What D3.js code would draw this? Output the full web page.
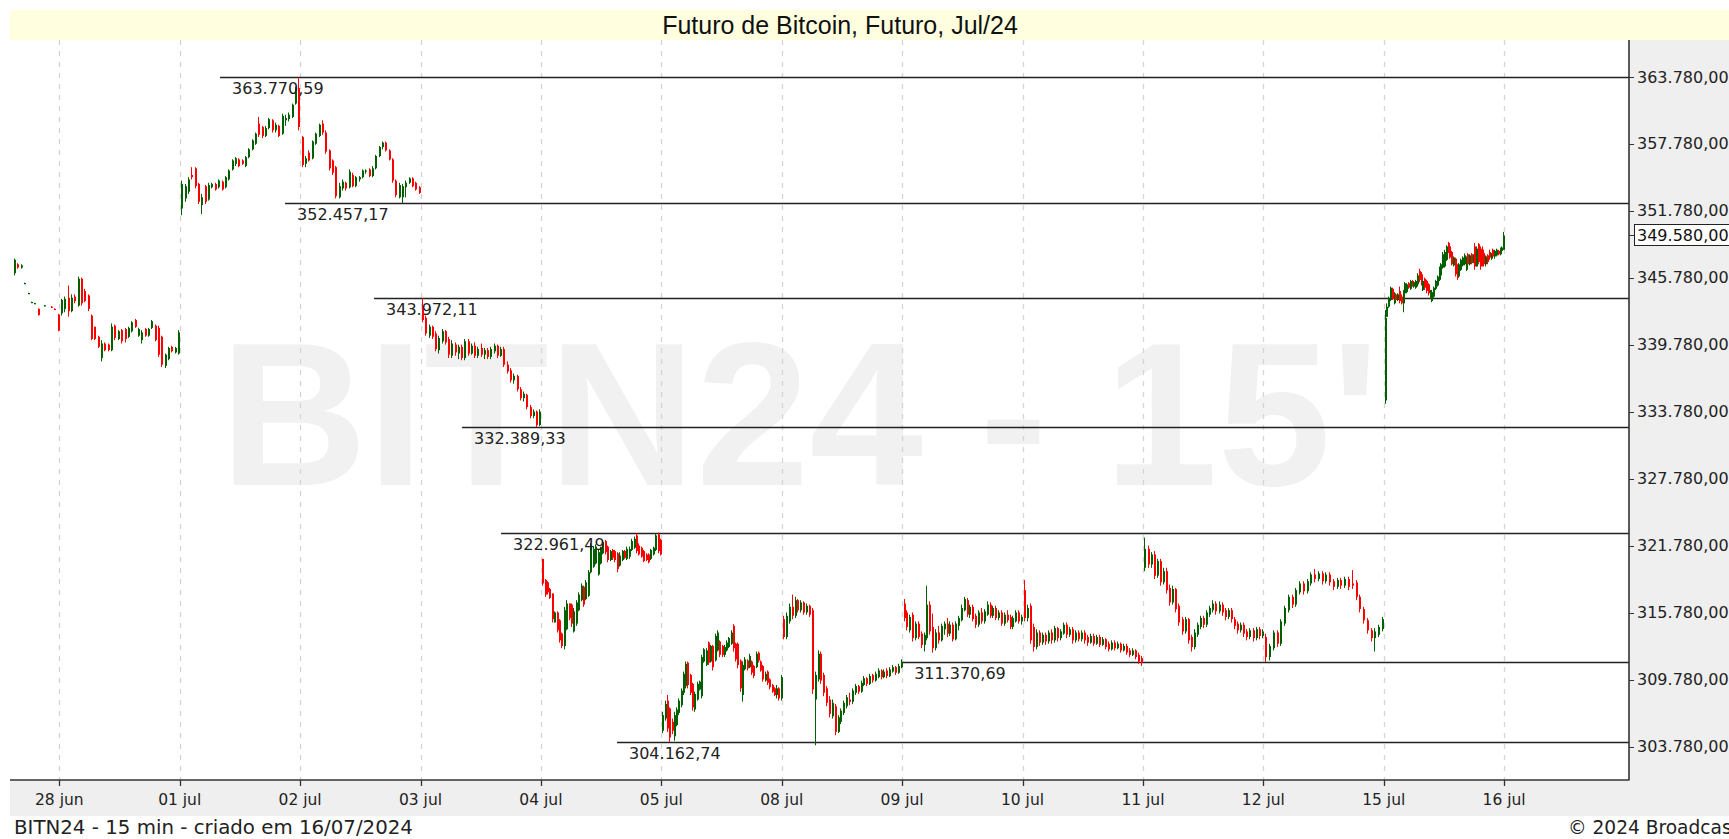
<!DOCTYPE html>
<html><head><meta charset="utf-8">
<script src="https://cdn.jsdelivr.net/npm/d3@7"></script>
<style>body{margin:0;background:#fff;overflow:hidden}svg{display:block}</style>
</head><body>
<svg id="chart" width="1729" height="839"></svg>
<script>
// ---------------- DATA ----------------
const title = "Futuro de Bitcoin, Futuro, Jul/24";
const footerLeft = "BITN24 - 15 min - criado em 16/07/2024";
const footerRight = "© 2024 Broadcast";
const watermark = "BITN24 - 15'";
const dayLabels = ["28 jun","01 jul","02 jul","03 jul","04 jul","05 jul","08 jul","09 jul","10 jul","11 jul","12 jul","15 jul","16 jul"];
const yTicks = [303780, 309780, 315780, 321780, 327780, 333780, 339780, 345780, 351780, 357780, 363780];
const lastPrice = 349580;
const levelValues = [363770.59, 352457.17, 343972.11, 332389.33, 322961.49, 311370.69, 304162.74];
const levelFrom = [1.335, 1.875, 2.614, 3.345, 3.669, 7.0, 4.632]; // day-index where each level line starts

// candles [open, high, low, close] in thousands
const d27jun = [null,null,null,null,null,null,null,null,null,null,null,null,null,null,null,null,null,null,null,null,null,null,
 [346.2,347.5,346.0,347.4],[347.0,347.1,346.6,346.7],[346.7,347.0,346.6,346.9],[345.3,345.35,345.25,345.32],
 [344.4,344.45,344.35,344.42],[343.6,343.65,343.55,343.62],[343.5,343.55,343.45,343.52],[343.0,343.05,342.4,342.45],
 null,[343.3,343.35,343.25,343.32],null,[343.2,343.25,343.15,343.18],[343.0,343.05,342.95,342.98],[342.5,342.55,341.0,341.05]];
const d28jun = [[342.6,343.9,342.4,343.8],[343.0,344.1,342.7,343.9],[344.0,345.1,342.3,342.8],[342.8,344.3,342.7,344.0],
 [344.1,344.3,343.5,343.7],[343.3,345.9,343.2,345.7],[345.7,345.8,343.3,343.5],[344.6,344.8,343.6,343.7],
 [344.2,344.3,342.8,343.0],[342.4,342.5,340.2,340.3],[341.4,341.4,340.2,340.3],[340.5,340.6,339.5,339.6],
 [338.6,340.2,338.3,339.9],[339.9,340.0,339.2,339.3],[339.8,339.9,339.2,339.3],[339.3,341.7,339.2,341.4],
 [341.5,341.6,340.2,340.4],[340.3,341.1,340.2,341.0],[341.1,341.2,339.9,340.1],[341.2,341.3,340.0,340.3],
 [340.5,341.4,340.4,341.3],[341.0,341.9,340.9,341.8],[342.0,342.1,341.3,341.4],[340.6,341.3,340.5,341.2],
 [340.2,341.1,339.9,340.9],[341.2,341.3,340.5,340.6],[340.6,341.3,340.5,341.2],[341.3,342.0,341.2,341.9],
 [341.5,341.6,340.1,340.2],[341.3,341.5,338.7,338.9],[340.5,340.6,337.8,338.0],[337.9,339.0,337.7,338.9],
 [338.5,339.6,338.4,339.5],[339.6,339.7,339.1,339.2],[339.1,339.6,339.0,339.5],[339.0,341.1,338.9,340.9]];
const d01jul = [[352.0,354.5,351.4,354.2],[352.9,354.2,352.6,354.0],[353.5,354.8,353.3,354.6],[355.0,355.7,354.6,354.8],
 [355.6,355.7,353.8,354.0],[354.2,354.3,352.4,352.6],[352.3,353.3,351.5,353.0],[354.0,354.1,352.4,352.6],
 [352.8,354.3,352.7,354.1],[353.9,354.3,353.8,354.2],[354.2,354.3,353.6,353.7],[353.9,354.6,353.8,354.5],
 [354.4,354.5,353.6,353.7],[353.9,354.9,353.8,354.8],[354.6,355.5,354.5,355.4],[355.5,356.4,355.4,356.3],
 [356.0,356.6,355.8,356.5],[356.4,356.5,355.7,355.8],[356.3,356.4,355.9,356.0],[355.8,356.7,355.7,356.6],
 [356.6,357.4,356.5,357.3],[357.3,358.2,357.2,358.1],[357.8,358.8,357.7,358.7],[359.6,360.2,358.4,358.6],
 [359.3,359.4,358.3,358.5],[358.5,359.4,358.4,359.2],[359.2,360.1,359.1,360.0],[359.9,360.0,358.8,359.0],
 [359.0,359.7,358.8,359.5],[359.4,359.5,358.4,358.5],[358.7,360.5,358.6,360.3],[359.9,360.4,359.4,360.1],
 [360.0,360.6,359.8,360.4],[360.2,361.4,360.1,361.3],[361.4,362.9,361.3,362.8],[362.8,363.77,359.0,359.3]];
const d02jul = [[358.4,358.5,355.7,355.9],[356.0,356.7,355.7,356.5],[357.0,357.2,356.2,356.3],[356.5,358.1,356.4,358.0],
 [357.8,358.8,357.7,358.7],[358.5,359.6,358.4,359.5],[359.6,359.9,358.6,358.8],[358.8,359.0,356.9,357.1],
 [357.2,357.3,355.4,355.6],[356.3,356.4,355.0,355.2],[355.7,355.8,352.9,353.1],[353.0,354.3,352.9,354.0],
 [353.8,354.6,353.6,354.4],[354.3,354.4,353.6,353.8],[353.9,355.5,353.8,355.3],[355.0,355.2,353.9,354.0],
 [354.0,354.9,353.9,354.8],[354.6,354.9,354.4,354.8],[354.8,355.5,354.7,355.4],[355.3,355.5,355.1,355.4],
 [355.5,355.6,354.8,354.9],[354.9,355.8,354.8,355.6],[355.6,356.8,355.5,356.7],[356.7,357.6,356.6,357.5],
 [357.5,358.0,357.3,357.9],[357.9,358.0,357.1,357.2],[357.2,357.3,356.3,356.4],[356.4,356.5,354.3,354.5],
 [354.5,354.6,353.0,353.2],[353.0,354.3,352.9,354.1],[353.0,354.2,352.46,354.0],[353.9,354.5,353.0,354.3],
 [354.3,354.8,354.2,354.7],[354.7,354.8,353.9,354.0],[354.3,354.4,353.6,353.7],[353.9,354.0,353.3,353.4]];
const d03jul = [[343.1,343.97,341.8,342.0],[342.2,342.4,340.6,340.8],[340.6,341.6,340.4,341.4],[341.4,341.5,340.3,340.5],
 [340.8,341.0,339.2,339.4],[339.3,340.6,339.0,340.4],[340.1,341.2,339.9,341.0],[341.0,341.1,339.8,340.0],
 [340.3,340.5,338.6,338.9],[338.8,340.2,338.6,339.9],[339.8,340.0,338.8,339.1],[339.0,339.8,338.5,339.6],
 [339.6,339.8,338.4,338.6],[338.6,340.3,338.4,340.1],[340.1,340.3,338.8,339.0],[339.0,339.9,338.9,339.7],
 [339.7,340.0,338.6,338.8],[338.8,339.6,338.6,339.4],[339.5,339.9,338.7,338.9],[338.9,339.5,338.5,339.3],
 [339.3,339.5,338.5,338.7],[338.7,339.6,338.5,339.4],[339.2,339.9,339.0,339.7],[339.7,339.8,338.6,338.8],
 [338.8,339.6,338.7,339.4],[339.4,339.6,337.8,338.0],[338.0,338.3,337.2,337.4],[337.5,337.7,336.4,336.6],
 [336.6,337.2,336.3,337.0],[337.0,337.1,335.6,335.8],[335.8,336.0,334.8,335.0],[335.0,335.6,334.7,335.4],
 [335.3,335.4,334.0,334.2],[334.2,334.4,333.2,333.4],[333.4,334.0,333.2,333.8],[333.8,333.9,332.39,332.6],
 [332.6,334.0,332.5,333.8]];
const d04jul = [[320.6,320.6,318.2,318.4],[318.7,318.8,317.2,317.4],[318.5,318.6,317.4,317.6],[317.9,318.0,317.0,317.1],
 [317.5,317.5,314.9,315.2],[314.9,315.9,314.9,315.8],[315.8,315.9,314.0,314.2],[315.1,315.2,313.1,313.3],
 [313.9,314.0,312.6,312.8],[312.8,316.3,312.5,316.0],[314.3,316.9,314.2,316.6],[316.6,316.6,315.1,315.3],
 [316.5,316.6,314.5,314.8],[314.1,316.2,314.0,315.9],[314.8,316.9,314.6,316.7],[316.0,317.6,315.9,317.4],
 [316.9,318.4,316.8,318.2],[318.1,318.2,316.3,316.5],[317.0,318.7,316.9,318.5],[317.3,319.6,317.2,319.4],
 [319.4,322.0,319.3,321.8],[319.9,321.7,319.8,321.5],[320.2,321.9,320.1,321.7],[319.2,321.4,319.1,321.2],
 [320.2,321.7,320.1,321.5],[321.1,322.3,321.0,322.1],[322.2,322.3,321.0,321.2],[321.7,321.8,320.3,320.5],
 [320.5,321.4,320.4,321.3],[321.4,321.5,320.5,320.7],[321.3,321.4,320.3,320.5],[321.1,321.2,319.4,319.7],
 [320.0,321.2,319.9,320.9],[320.5,321.4,320.4,321.3],[321.3,321.4,320.6,320.7],[320.6,321.7,320.5,321.5],
 [320.8,321.7,320.6,321.5],[321.4,322.4,321.3,322.2],[321.6,322.6,321.5,322.4],[322.7,322.9,321.1,321.3],
 [321.8,322.0,320.9,321.0],[321.6,321.7,320.7,320.8],[321.3,321.4,320.3,320.4],[321.0,321.1,320.4,320.5],
 [321.0,321.1,320.2,320.3],[320.6,321.5,320.5,321.4],[321.0,321.7,320.9,321.6],[321.4,322.9,321.3,322.7],
 [322.8,322.96,321.1,321.3],[322.3,322.4,320.9,321.0]];
const d05jul = [[305.2,306.9,305.0,306.6],[306.3,307.9,306.1,307.6],[307.9,308.4,305.1,305.4],[307.2,307.3,304.16,304.6],
 [306.0,306.3,304.9,305.2],[304.7,306.9,304.3,306.6],[305.7,307.3,305.6,307.1],[306.8,308.1,306.6,307.9],
 [307.5,309.0,307.3,308.8],[308.6,310.5,308.4,310.3],[309.2,311.4,309.0,311.2],[311.3,311.4,309.0,309.3],
 [310.2,310.3,308.4,308.6],[309.4,309.5,307.0,307.3],[307.1,308.7,306.9,308.5],[308.0,309.6,307.9,309.4],
 [308.9,309.7,308.8,309.6],[308.3,312.0,308.1,311.8],[311.4,312.6,311.3,312.5],[311.1,312.6,311.0,312.4],
 [313.1,313.2,311.1,311.3],[311.4,312.9,311.3,312.8],[312.8,312.9,310.6,310.9],[311.5,313.9,311.4,313.7],
 [312.4,314.2,312.3,314.0],[313.2,313.3,311.8,312.0],[312.8,312.9,311.8,312.0],[312.0,312.9,311.8,312.7],
 [312.4,313.3,312.3,313.1],[312.7,313.6,312.6,313.5],[313.0,314.2,312.9,314.0],[314.6,314.75,312.3,312.6],
 [313.0,313.1,311.4,311.6],[313.0,313.1,310.8,311.1],[311.5,311.6,308.7,309.0],[308.4,311.4,307.8,311.1],
 [310.7,311.8,310.6,311.6],[311.5,311.6,310.6,310.8],[310.9,312.1,310.8,311.9],[311.4,311.5,310.2,310.4],
 [311.0,311.1,309.9,310.1],[310.9,312.3,310.8,312.1],[312.2,312.3,311.3,311.5],[311.4,311.5,310.5,310.6],
 [311.0,311.1,309.6,309.8],[309.7,310.5,309.6,310.3],[310.5,310.6,309.3,309.5],[309.8,309.9,308.9,309.1],
 [309.3,309.4,308.6,308.7],[309.0,309.1,308.3,308.4],[308.4,309.3,308.1,309.0],[309.0,309.1,307.9,308.1],
 [308.1,310.2,307.9,310.0]];
const d08jul = [[315.2,315.5,313.4,313.6],[313.6,315.8,313.4,315.5],[315.0,316.6,314.8,316.3],[316.3,317.4,315.2,315.5],
 [315.5,317.2,315.3,316.9],[316.9,317.0,315.8,316.0],[316.0,316.9,315.8,316.7],[316.7,316.8,315.6,315.8],
 [315.8,316.6,315.6,316.4],[316.4,316.5,315.4,315.6],[316.0,316.2,308.5,308.9],[308.0,310.5,303.9,310.2],
 [309.8,312.4,309.6,312.1],[312.1,312.3,309.4,309.7],[310.2,310.4,308.3,308.6],[309.0,309.2,307.4,307.7],
 [308.0,308.3,306.4,306.7],[306.5,308.0,306.3,307.7],[307.4,307.6,304.8,305.1],[305.1,306.6,305.0,306.4],
 [306.0,307.2,305.8,307.0],[306.8,307.9,306.6,307.7],[307.4,308.4,307.2,308.2],[308.0,308.6,307.5,307.8],
 [307.8,309.0,307.6,308.8],[308.6,309.4,308.4,309.2],[309.2,309.3,308.5,308.7],[308.7,309.7,308.6,309.5],
 [309.3,310.1,309.2,309.9],[309.9,310.0,309.2,309.4],[309.4,310.3,309.3,310.1],[310.2,310.3,309.5,309.7],
 [309.7,310.5,309.6,310.3],[310.0,310.8,309.9,310.6],[310.6,310.7,309.8,310.0],[310.0,310.7,309.9,310.5],
 [310.6,310.8,309.9,310.1],[310.1,310.9,310.0,310.7],[310.5,311.1,310.4,310.9],[310.9,311.0,310.2,310.4],
 [310.4,311.2,310.3,311.0],[310.9,311.6,310.8,311.4]];
const d09jul = [[316.6,317.0,315.0,315.3],[315.8,316.0,314.2,314.5],[314.2,315.6,314.0,315.4],[315.6,315.8,313.2,313.5],
 [313.5,315.0,313.3,314.8],[314.8,315.0,313.4,313.6],[313.9,314.1,312.6,312.9],[312.9,314.0,312.3,313.8],
 [313.5,318.2,313.3,316.5],[316.5,316.8,313.8,314.1],[314.5,315.7,312.2,312.6],[312.6,314.3,312.4,314.0],
 [314.0,314.6,313.0,313.3],[313.3,314.8,313.2,314.6],[314.3,315.0,313.8,314.8],[314.8,315.3,313.6,313.9],
 [313.9,315.0,313.7,314.7],[314.7,314.9,313.2,313.4],[313.4,315.0,313.3,314.8],[314.6,315.5,314.2,315.3],
 [315.1,316.5,315.0,316.2],[316.0,317.2,315.9,317.0],[316.9,317.1,315.4,315.6],[315.6,316.5,315.3,316.3],
 [316.3,316.5,315.0,315.2],[315.5,315.7,314.4,314.7],[314.7,316.0,314.5,315.8],[315.8,316.2,314.8,315.0],
 [315.0,316.1,314.8,315.9],[315.6,316.8,315.5,316.5],[316.5,316.7,315.3,315.5],[315.5,316.4,315.3,316.2],
 [316.2,316.4,315.1,315.3],[315.3,316.0,315.1,315.8],[315.8,316.0,314.6,314.8],[314.8,315.8,314.6,315.6],
 [315.6,316.0,314.9,315.1],[315.4,315.6,314.3,314.5],[314.5,315.5,314.3,315.3],[315.0,316.0,314.9,315.8],
 [315.8,316.0,314.8,315.0],[315.0,315.6,314.7,315.4]];
const d10jul = [[317.8,318.7,315.0,315.3],[315.3,316.5,315.0,316.2],[316.4,316.6,313.0,313.3],[314.5,314.8,312.3,312.7],
 [312.7,314.3,312.5,314.0],[314.0,314.2,312.8,313.1],[313.1,314.0,312.9,313.8],[313.8,314.0,312.9,313.2],
 [313.2,314.2,313.0,314.0],[314.0,314.3,313.0,313.3],[313.3,314.6,313.1,314.4],[314.4,314.5,313.2,313.5],
 [313.5,314.3,313.3,314.1],[313.9,314.9,313.8,314.7],[314.7,314.9,313.5,313.8],[313.8,314.5,313.6,314.3],
 [314.3,314.5,313.0,313.3],[313.3,314.2,313.1,314.0],[314.0,314.2,313.2,313.4],[313.4,314.2,313.2,314.0],
 [314.0,314.2,313.0,313.3],[313.6,313.8,312.8,313.1],[313.1,313.9,313.0,313.7],[313.7,313.9,312.8,313.0],
 [313.0,313.8,312.9,313.6],[313.6,313.8,312.7,312.9],[312.9,313.6,312.8,313.4],[313.4,313.5,312.5,312.7],
 [313.0,313.2,312.3,312.5],[312.5,313.3,312.4,313.1],[313.1,313.3,312.4,312.6],[312.6,313.2,312.5,313.0],
 [313.0,313.1,312.2,312.4],[312.4,313.0,312.3,312.8],[312.8,313.0,312.0,312.2],[312.4,312.6,311.8,312.0],
 [312.0,312.6,311.9,312.4],[312.4,312.5,311.6,311.8],[312.0,312.2,311.2,311.4],[311.7,311.9,311.0,311.3]];
const d11jul = [[319.8,322.5,319.5,321.5],[321.5,321.8,319.8,320.1],[320.1,321.2,319.8,321.0],[321.0,321.3,318.8,319.1],
 [319.1,320.6,318.9,320.4],[320.4,320.6,318.2,318.5],[318.5,319.8,318.3,319.5],[319.5,319.8,317.5,317.8],
 [318.0,318.3,316.4,316.7],[316.7,318.2,316.5,317.9],[317.9,318.0,315.8,316.1],[316.4,316.6,314.6,314.9],
 [315.2,315.4,313.8,314.1],[314.1,315.4,313.9,315.2],[315.2,315.3,313.0,313.3],[313.6,313.8,312.3,312.7],
 [312.7,314.3,312.5,314.0],[313.8,314.9,313.6,314.7],[314.5,315.5,314.3,315.3],[315.3,315.5,314.4,314.7],
 [314.7,316.0,314.5,315.8],[315.6,316.4,315.4,316.2],[316.0,316.9,315.8,316.6],[316.6,316.8,315.6,315.9],
 [315.9,316.8,315.7,316.5],[316.5,316.7,315.5,315.8],[316.0,316.2,315.1,315.4],[315.4,316.2,315.2,316.0],
 [316.0,316.2,314.9,315.2],[315.2,315.4,314.3,314.6],[314.8,315.0,313.9,314.2],[314.2,314.9,314.0,314.7],
 [314.7,314.9,313.6,313.9],[314.1,314.3,313.3,313.6],[313.6,314.4,313.4,314.2],[314.2,314.4,313.2,313.5],
 [313.5,314.5,313.3,314.3],[314.3,314.5,313.4,313.7],[313.7,314.3,313.5,314.1]];
const d12jul = [[313.6,313.9,311.37,311.8],[311.8,313.0,311.5,312.8],[312.6,314.2,312.4,314.0],[314.0,314.2,312.7,313.0],
 [313.0,315.2,312.8,315.0],[314.8,316.4,314.6,316.2],[316.0,317.4,315.8,317.2],[317.2,317.4,316.2,316.5],
 [316.5,318.0,316.3,317.8],[317.6,318.6,317.4,318.4],[318.4,318.6,317.4,317.7],[317.7,318.8,317.5,318.6],
 [318.4,319.4,318.2,319.2],[319.2,319.7,318.5,318.8],[318.8,319.5,318.6,319.3],[319.3,319.5,318.3,318.6],
 [318.6,319.4,318.4,319.2],[319.2,319.4,318.2,318.5],[318.6,318.8,317.8,318.1],[318.1,318.9,317.9,318.7],
 [318.7,318.9,317.9,318.2],[318.2,319.0,318.0,318.8],[318.8,319.0,317.8,318.1],[318.4,319.6,317.9,318.2],
 [318.5,318.7,316.9,317.2],[317.2,317.4,315.8,316.1],[316.1,316.3,314.8,315.1],[315.1,315.3,313.9,314.2],
 [314.2,314.4,313.2,313.5],[313.5,314.4,312.3,314.1],[313.8,314.7,313.6,314.5],[314.3,315.4,314.1,315.2]];
const d15jul = [[334.8,342.9,334.5,342.2],[342.3,343.5,342.3,343.2],[343.2,344.1,343.1,343.9],[343.8,345.0,343.7,344.9],
 [344.8,344.9,343.8,343.9],[343.5,344.5,343.4,344.3],[344.3,344.4,343.7,343.8],[343.8,344.4,343.7,344.3],
 [344.6,345.0,343.5,343.7],[344.1,344.3,343.4,343.5],[343.5,344.7,342.7,344.5],[344.4,345.4,344.3,345.3],
 [344.5,345.3,344.4,345.2],[345.3,345.4,344.8,344.9],[344.8,345.6,344.7,345.5],[345.5,345.6,345.0,345.1],
 [345.0,345.5,344.9,345.4],[344.9,345.6,344.8,345.5],[345.2,346.2,345.0,346.0],[346.4,346.6,345.4,345.6],
 [346.1,346.3,345.1,345.3],[344.7,345.6,344.6,345.5],[345.7,345.8,344.7,344.9],[345.5,345.6,344.4,344.6],
 [345.2,345.3,344.2,344.4],[344.1,344.7,344.0,344.6],[343.7,344.7,343.6,344.5],[344.1,345.0,344.0,344.9],
 [344.8,345.6,344.7,345.5],[345.1,346.0,345.0,345.9],[345.6,346.8,345.5,346.7],[346.0,347.1,345.9,347.0],
 [346.7,348.1,346.6,347.9],[346.8,348.3,346.7,348.1],[347.4,348.7,347.3,348.6],[348.9,349.0,348.0,348.1],
 [348.6,348.7,347.5,347.6],[348.1,348.2,346.9,347.0],[346.9,347.7,346.8,347.6],[347.5,347.6,345.9,346.1],
 [346.9,347.0,345.6,345.8],[345.9,347.1,345.8,347.0],[346.5,347.5,346.4,347.4],[346.9,347.7,346.8,347.6],
 [347.0,347.97,346.9,347.8],[346.5,347.7,346.4,347.5],[347.9,348.0,346.9,347.0],[347.0,347.9,346.9,347.8],
 [347.9,348.0,347.0,347.1],[347.2,347.9,347.1,347.7],[348.6,348.9,346.5,346.8],[346.8,348.6,346.8,348.4],
 [348.8,348.9,347.0,347.2],[348.4,348.6,346.5,346.8],[348.3,348.6,346.8,347.0],[348.0,348.3,346.8,347.0],
 [347.0,347.8,346.8,347.7],[347.8,347.9,347.0,347.2],[348.1,348.3,347.4,347.6],[347.5,348.0,347.4,347.9],
 [348.3,348.4,347.6,347.7],[347.7,348.3,347.5,348.2],[347.8,348.4,347.7,348.3],[348.2,348.3,347.8,347.9],
 [347.9,348.5,347.8,348.4],[348.2,348.6,348.1,348.5],[348.3,349.9,348.3,349.58]];
// day index of each candle array (0 = 28 jun)
const dayIndex = [-1, 0, 1, 2, 3, 4, 5, 6, 7, 8, 9, 10, 11];
const dayCandles = [d27jun, d28jun, d01jul, d02jul, d03jul, d04jul, d05jul, d08jul, d09jul, d10jul, d11jul, d12jul, d15jul];

// ---------------- LAYOUT ----------------
const W = 1729, H = 839;
const plot = {left: 10, right: 1629, top: 40, bottom: 780};
const upColor = "#006000", downColor = "#ff0000";
const labelFont = "'DejaVu Sans', Verdana, sans-serif";
const svg = d3.select("#chart");

const locale = d3.formatLocale({decimal: ",", thousands: ".", grouping: [3], currency: ["", ""]});
const fmt = locale.format(",.2f");

const x = d3.scaleLinear().domain([-0.4095, 13.037]).range([plot.left, plot.right]);
const y = d3.scaleLinear().domain([303.78, 363.78]).range([746.6, 77.0]);

// backgrounds
svg.append("rect").attr("x",0).attr("y",0).attr("width",W).attr("height",H).attr("fill","#fff");
svg.append("rect").attr("x",plot.left).attr("y",10).attr("width",W-plot.left).attr("height",30).attr("fill","#ffffe0");
svg.append("rect").attr("x",plot.right).attr("y",plot.top).attr("width",W-plot.right).attr("height",816-plot.top).attr("fill","#efefef");
svg.append("rect").attr("x",plot.left).attr("y",plot.bottom).attr("width",W-plot.left).attr("height",36).attr("fill","#efefef");

svg.append("text").attr("x",840).attr("y",34).attr("text-anchor","middle")
  .attr("font-family","'Liberation Sans', Arial, sans-serif").attr("font-size",25).attr("fill","#111").text(title);

// clip
svg.append("clipPath").attr("id","plotclip").append("rect")
  .attr("x",plot.left).attr("y",plot.top).attr("width",plot.right-plot.left).attr("height",plot.bottom-plot.top);
const g = svg.append("g").attr("clip-path","url(#plotclip)");

// watermark
g.append("text").attr("x",220).attr("y",485)
  .attr("font-family","'Liberation Sans', Arial, sans-serif").attr("font-weight","bold").attr("font-size",204)
  .attr("fill","#f1f1f1").text(watermark);

// vertical dashed grid
const tickIdx = d3.range(dayLabels.length);
g.selectAll("line.grid").data(tickIdx).join("line").attr("class","grid")
  .attr("x1",d=>Math.round(x(d))+0.5).attr("x2",d=>Math.round(x(d))+0.5)
  .attr("y1",plot.top).attr("y2",plot.bottom)
  .attr("stroke","#d4d4d4").attr("stroke-width",1.3).attr("stroke-dasharray","5,6");

// level lines
const lvl = levelValues.map((v,i)=>({v, from: levelFrom[i]}));
g.selectAll("line.level").data(lvl).join("line").attr("class","level")
  .attr("x1",d=>x(d.from)).attr("x2",plot.right)
  .attr("y1",d=>Math.round(y(d.v/1000))+0.5).attr("y2",d=>Math.round(y(d.v/1000))+0.5)
  .attr("stroke","#222").attr("stroke-width",1.4);

// candles
const candles = [];
dayCandles.forEach((arr,k)=>{
  const n = arr.length;
  arr.forEach((c,i)=>{
    if(!c) return;
    candles.push({t: dayIndex[k] + (i+0.5)/n, o:c[0], h:c[1], l:c[2], c:c[3]});
  });
});
const cg = g.append("g");
cg.selectAll("line.wick").data(candles).join("line").attr("class","wick")
  .attr("x1",d=>Math.round(x(d.t))+0.5).attr("x2",d=>Math.round(x(d.t))+0.5)
  .attr("y1",d=>y(d.h)).attr("y2",d=>y(d.l))
  .attr("stroke",d=>d.c>=d.o?upColor:downColor).attr("stroke-width",1);
cg.selectAll("rect.body").data(candles).join("rect").attr("class","body")
  .attr("x",d=>Math.round(x(d.t)))
  .attr("width",2)
  .attr("y",d=>Math.min(y(d.o),y(d.c)))
  .attr("height",d=>Math.max(1.2, Math.abs(y(d.o)-y(d.c))))
  .attr("fill",d=>d.c>=d.o?upColor:downColor);

// level labels
g.selectAll("text.level").data(lvl).join("text").attr("class","level")
  .attr("x",d=>x(d.from)+12).attr("y",d=>y(d.v/1000)+17)
  .attr("font-family",labelFont).attr("font-size",16).attr("fill","#222")
  .text(d=>fmt(d.v));

// axes lines
svg.append("line").attr("x1",plot.left).attr("x2",plot.right+0.5).attr("y1",plot.bottom).attr("y2",plot.bottom)
  .attr("stroke","#333").attr("stroke-width",1.6);
svg.append("line").attr("x1",plot.right).attr("x2",plot.right).attr("y1",plot.top).attr("y2",plot.bottom)
  .attr("stroke","#333").attr("stroke-width",1.6);

// y ticks & labels
svg.selectAll("line.ytick").data(yTicks).join("line").attr("class","ytick")
  .attr("x1",plot.right).attr("x2",plot.right+5)
  .attr("y1",d=>Math.round(y(d/1000))+0.5).attr("y2",d=>Math.round(y(d/1000))+0.5)
  .attr("stroke","#333").attr("stroke-width",1);
svg.selectAll("text.ytick").data(yTicks).join("text").attr("class","ytick")
  .attr("x",plot.right+8).attr("y",d=>y(d/1000)+5.5)
  .attr("font-family",labelFont).attr("font-size",16).attr("fill","#222")
  .text(d=>fmt(d));

// last price box
const ly = y(lastPrice/1000);
svg.append("line").attr("x1",plot.right).attr("x2",plot.right+5).attr("y1",Math.round(ly)+0.5).attr("y2",Math.round(ly)+0.5)
  .attr("stroke","#333");
svg.append("rect").attr("x",plot.right+5.5).attr("y",Math.round(ly)-10.5).attr("width",110).attr("height",21)
  .attr("fill","#fff").attr("stroke","#222").attr("stroke-width",1);
svg.append("text").attr("x",plot.right+8).attr("y",ly+5.5)
  .attr("font-family",labelFont).attr("font-size",16).attr("fill","#111")
  .text(fmt(lastPrice));

// x ticks & labels
svg.selectAll("line.xtick").data(tickIdx).join("line").attr("class","xtick")
  .attr("x1",d=>Math.round(x(d))+0.5).attr("x2",d=>Math.round(x(d))+0.5)
  .attr("y1",plot.bottom).attr("y2",plot.bottom+6).attr("stroke","#333").attr("stroke-width",1.3);
svg.selectAll("text.xtick").data(tickIdx).join("text").attr("class","xtick")
  .attr("x",d=>x(d)).attr("y",805).attr("text-anchor","middle")
  .attr("font-family",labelFont).attr("font-size",15.5).attr("fill","#222")
  .text(d=>dayLabels[d]);

// footers
svg.append("text").attr("x",14).attr("y",834)
  .attr("font-family",labelFont).attr("font-size",19.8).attr("fill","#222").text(footerLeft);
svg.append("text").attr("x",1568).attr("y",834)
  .attr("font-family",labelFont).attr("font-size",18.6).attr("fill","#222").text(footerRight);
</script>
</body></html>
